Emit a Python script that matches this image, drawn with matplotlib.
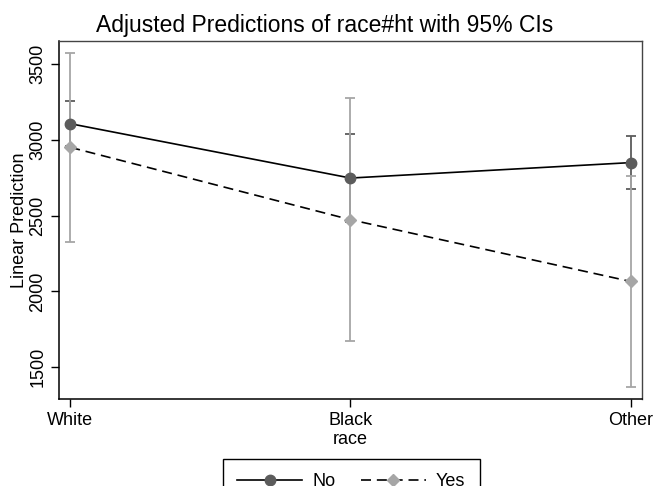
import matplotlib
matplotlib.use("Agg")
import matplotlib.pyplot as plt
from matplotlib.lines import Line2D

plt.rcParams['font.family'] = ['Liberation Sans', 'DejaVu Sans']

# Adjusted predictions (margins) by race and hypertension status
categories = ["White", "Black", "Other"]
no_pred = [3108, 2749, 2851]
no_lo = [2958, 2458, 2676]
no_hi = [3258, 3040, 3026]
yes_pred = [2952, 2474, 2066]
yes_lo = [2327, 1672, 1372]
yes_hi = [3577, 3276, 2760]
yticks = [1500, 2000, 2500, 3000, 3500]

x = list(range(1, len(categories) + 1))

fig = plt.figure(figsize=(6.53, 4.86), dpi=100)
ax = fig.add_axes([59 / 653, 1 - 399 / 486, (642 - 59) / 653, (399 - 41) / 486])

dark = "#5c5c5c"
light = "#a6a6a6"
fs = 13
dash = (0, (6, 3.5))

# confidence intervals
ax.errorbar(x, no_pred, yerr=[[p - l for p, l in zip(no_pred, no_lo)],
                               [h - p for p, h in zip(no_pred, no_hi)]],
            fmt="none", ecolor=dark, elinewidth=1.3, capsize=3.5, capthick=1.3, zorder=2)
ax.errorbar(x, yes_pred, yerr=[[p - l for p, l in zip(yes_pred, yes_lo)],
                                [h - p for p, h in zip(yes_pred, yes_hi)]],
            fmt="none", ecolor=light, elinewidth=1.3, capsize=3.5, capthick=1.3, zorder=3)

# connecting lines and point estimates
ax.plot(x, no_pred, color="black", lw=1.2, zorder=4)
ax.plot(x, yes_pred, color="black", lw=1.2, ls=dash, zorder=4)
ax.plot(x, no_pred, ls="none", marker="o", ms=7.5, mfc=dark, mec=dark, zorder=5)
ax.plot(x, yes_pred, ls="none", marker="D", ms=6.5, mfc=light, mec=light, zorder=5)

ax.set_xlim(0.96, 3.04)
ax.set_ylim(1290, 3654)
ax.set_xticks(x)
ax.set_xticklabels(categories, fontsize=fs)
ax.set_yticks(yticks)
ax.set_yticklabels([str(v) for v in yticks], fontsize=fs, rotation=90, va="center")
ax.tick_params(axis="both", direction="out", length=6, width=1.0, colors="black", pad=3)

for side in ["left", "bottom"]:
    ax.spines[side].set_color("black")
    ax.spines[side].set_linewidth(1.1)
for side in ["top", "right"]:
    ax.spines[side].set_color("#444444")
    ax.spines[side].set_linewidth(1.0)

ax.set_xlabel("race", fontsize=fs, labelpad=2)
ax.set_ylabel("Linear Prediction", fontsize=fs, labelpad=1)

fig.text(0.497, 1 - 31.7 / 486, "Adjusted Predictions of race#ht with 95% CIs",
         ha="center", va="baseline", fontsize=16.5)

handles = [
    Line2D([], [], color="black", lw=1.2, marker="o", ms=7.5, mfc=dark, mec=dark),
    Line2D([], [], color="black", lw=1.2, ls=dash, marker="D", ms=6.5,
           mfc=light, mec=light),
]
leg = fig.legend(handles, ["No", "Yes"], ncol=2, loc="upper left",
                 bbox_to_anchor=(223 / 653, 1 - 459 / 486), fontsize=fs,
                 frameon=True, fancybox=False, edgecolor="black", framealpha=1,
                 handlelength=3.6, borderpad=0.8, columnspacing=1.4, handletextpad=0.55,
                 borderaxespad=0)
leg.get_frame().set_linewidth(1.0)

fig.savefig("out.png", dpi=100)
